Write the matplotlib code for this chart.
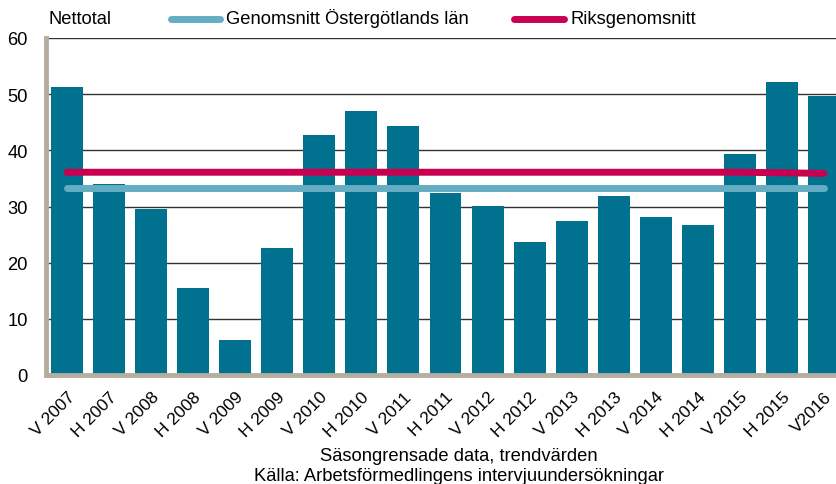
import matplotlib.pyplot as plt
import numpy as np

plt.rcParams['font.family'] = ['Liberation Sans', 'DejaVu Sans']

# kategorier och värden
labels = ['V 2007', 'H 2007', 'V 2008', 'H 2008', 'V 2009', 'H 2009', 'V 2010',
          'H 2010', 'V 2011', 'H 2011', 'V 2012', 'H 2012', 'V 2013', 'H 2013',
          'V 2014', 'H 2014', 'V 2015', 'H 2015', 'V2016']
nettotal = [51.2, 34.0, 29.5, 15.5, 6.2, 22.6, 42.7, 47.0, 44.3, 32.4, 30.1,
            23.7, 27.4, 31.9, 28.1, 26.7, 39.4, 52.2, 49.7]
ostergotland = [33.3] * 19
riks = [36.1] * 16 + [36.1, 36.0, 35.9]

bar_color = '#00728f'
blue_line = '#64adc2'
red_line = '#c8004f'
spine_color = '#b5ad9f'
fs = 13.2

fig = plt.figure(figsize=(8.36, 4.85), dpi=100)
# plotytan går lite utanför bildens högerkant, som i originalet
ax = fig.add_axes([46 / 836, 1 - 376 / 485, 799 / 836, 337 / 485])

x = np.arange(len(labels))
ax.bar(x, nettotal, width=0.76, color=bar_color, zorder=2)
ax.plot(x, ostergotland, color=blue_line, lw=5, solid_capstyle='round', zorder=3)
ax.plot(x, riks, color=red_line, lw=5, solid_capstyle='round', zorder=3)

ax.set_xlim(-0.5, len(labels) - 0.5)
ax.set_ylim(0, 60)
ax.set_yticks(range(0, 61, 10))
ax.yaxis.grid(True, color='#333333', lw=1.0, zorder=0)
ax.set_axisbelow(True)

for s in ['top', 'right']:
    ax.spines[s].set_visible(False)
for s in ['left', 'bottom']:
    ax.spines[s].set_color(spine_color)
    ax.spines[s].set_linewidth(3.5)

ax.tick_params(axis='both', length=0, labelsize=fs)
ax.tick_params(axis='y', pad=13)
ax.set_xticks(x)
ax.set_xticklabels(labels, rotation=45, ha='right', rotation_mode='anchor')
ax.tick_params(axis='x', pad=10, labelsize=12.5)

fig.text(48 / 836, 1 - 20 / 485, 'Nettotal', fontsize=fs, va='center')

# legend ritad för hand ovanför plotytan
fig.add_artist(plt.Line2D([171 / 836, 220 / 836], [1 - 20 / 485] * 2,
                          color=blue_line, lw=5, solid_capstyle='round'))
fig.text(226 / 836, 1 - 19 / 485, 'Genomsnitt Östergötlands län', fontsize=fs, va='center')
fig.add_artist(plt.Line2D([514 / 836, 564 / 836], [1 - 20 / 485] * 2,
                          color=red_line, lw=5, solid_capstyle='round'))
fig.text(571 / 836, 1 - 19 / 485, 'Riksgenomsnitt', fontsize=fs, va='center')

fig.text(459 / 836, 1 - 457 / 485, 'Säsongrensade data, trendvärden', fontsize=fs,
         ha='center', va='center')
fig.text(459 / 836, 1 - 477 / 485, 'Källa: Arbetsförmedlingens intervjuundersökningar',
         fontsize=fs, ha='center', va='center')

fig.savefig('out.png', dpi=100)
